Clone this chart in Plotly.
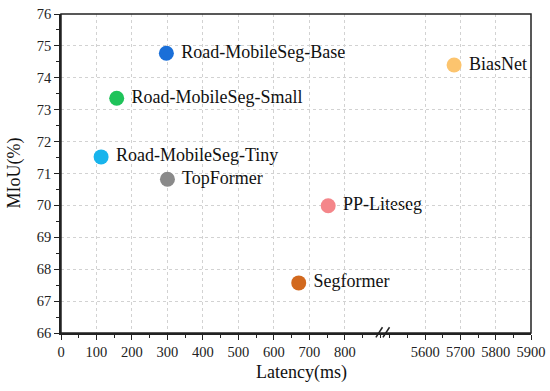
import plotly.graph_objects as go

# ---- data ----
models_low = ["Road-MobileSeg-Base", "Road-MobileSeg-Small", "Road-MobileSeg-Tiny",
              "TopFormer", "PP-Liteseg", "Segformer"]
latency_low = [297, 157, 113, 300, 753, 670]
miou_low = [74.77, 73.36, 71.52, 70.82, 69.99, 67.57]
colors_low = ["#1a6fd8", "#1fc35a", "#18b4ec", "#8a8a8a", "#f4868a", "#d2691e"]

models_high = ["BiasNet"]
latency_high = [5682]
miou_high = [74.40]
colors_high = ["#fcc46e"]

xticks_low = [0, 100, 200, 300, 400, 500, 600, 700, 800]
xticks_high = [5600, 5700, 5800, 5900]
yticks = [66, 67, 68, 69, 70, 71, 72, 73, 74, 75, 76]

FONT = "Liberation Serif"
BREAK = 0.687
GRID = dict(showgrid=True, gridcolor="#d2d2d2", gridwidth=1, griddash="dot")

fig = go.Figure()
fig.add_trace(go.Scatter(
    x=latency_low, y=miou_low, mode="markers+text",
    text=[" " + m for m in models_low], textposition="middle right",
    textfont=dict(family=FONT, size=18, color="#111"),
    marker=dict(size=15, color=colors_low),
    xaxis="x", yaxis="y", showlegend=False, cliponaxis=False, hoverinfo="skip"))
fig.add_trace(go.Scatter(
    x=latency_high, y=miou_high, mode="markers+text",
    text=[" " + m for m in models_high], textposition="middle right",
    textfont=dict(family=FONT, size=18, color="#111"),
    marker=dict(size=15, color=colors_high),
    xaxis="x2", yaxis="y2", showlegend=False, cliponaxis=False, hoverinfo="skip"))

axis_common = dict(
    showline=True, linecolor="#222", linewidth=1.5,
    ticks="outside", ticklen=5, tickwidth=1.2, tickcolor="#222",
    zeroline=False, automargin=False,
    tickfont=dict(family=FONT, size=14.5, color="#222"),
    **GRID,
)
minor_common = dict(ticks="outside", ticklen=3, tickcolor="#222", showgrid=False)

fig.update_layout(
    width=550, height=391,
    margin=dict(l=61, r=19, t=14, b=58),
    paper_bgcolor="white", plot_bgcolor="white",
    xaxis=dict(domain=[0, BREAK], range=[0, 910], tickvals=xticks_low,
               minor=dict(dtick=50, **minor_common), anchor="y", **axis_common),
    xaxis2=dict(domain=[BREAK, 1], range=[5483, 5900], tickvals=xticks_high,
                minor=dict(dtick=50, **minor_common), anchor="y2", **axis_common),
    yaxis=dict(range=[66, 76], tickvals=yticks, anchor="x",
               minor=dict(dtick=0.5, **minor_common), **axis_common),
    yaxis2=dict(range=[66, 76], tickvals=yticks, anchor="x2", overlaying="y",
                showticklabels=False, ticks="", showline=False, zeroline=False,
                automargin=False, **GRID),
)

# frame
fig.add_shape(type="rect", xref="paper", yref="paper", x0=0, y0=0, x1=1, y1=1,
              line=dict(color="#222", width=1.5), fillcolor="rgba(0,0,0,0)", layer="above")
# axis break marks
for dx in (-0.010, 0.005):
    fig.add_shape(type="line", xref="paper", yref="paper",
                  x0=BREAK + dx - 0.007, y0=-0.014, x1=BREAK + dx + 0.007, y1=0.018,
                  line=dict(color="#222", width=1.5))

fig.add_annotation(text="Latency(ms)", xref="paper", yref="paper", x=0.5, y=0,
                   xshift=5, yshift=-39, showarrow=False, yanchor="middle",
                   font=dict(family=FONT, size=18, color="#111"))
fig.add_annotation(text="MIoU(%)", xref="paper", yref="paper", x=0, y=0.5,
                   xshift=-47, showarrow=False, textangle=-90, xanchor="center",
                   font=dict(family=FONT, size=18, color="#111"))

fig.write_html("out.html", config={"displayModeBar": False},
               post_script="document.body.style.margin='0';document.body.style.overflow='hidden';")
